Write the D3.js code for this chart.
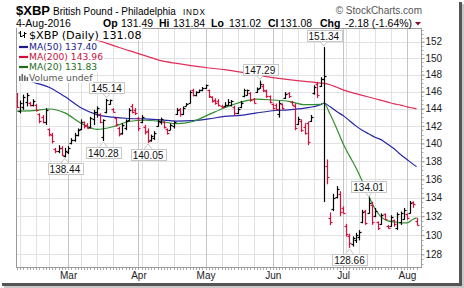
<!DOCTYPE html>
<html><head><meta charset="utf-8">
<script src="https://cdn.jsdelivr.net/npm/d3@7"></script>
<style>html,body{margin:0;padding:0;background:#fff}svg{display:block}</style>
</head><body><svg id="c" width="464" height="288"></svg>
<script>
// ---------- data ----------
const firstDay = "2016-02-05", lastDay = "2016-08-04";
const holidays = ["2016-02-15","2016-03-25","2016-05-30","2016-07-04"];
const priorClose = 145.6;
const opens = [145.53,143.75,144.15,144.8,144.7,144.45,144.45,143.35,143.05,142.4,141.6,141.0,139.4,139.1,139.5,138.6,139.0,140.0,140.4,141.0,141.6,142.4,142.1,141.9,142.75,143.55,143.35,140.7,143.55,144.55,143.95,142.85,141.7,141.2,141.8,142.65,144.35,143.85,142.95,142.4,141.9,141.4,140.35,140.6,142.0,142.45,142.45,141.6,141.5,142.0,143.35,143.95,143.35,144.35,144.7,146.13,145.53,145.93,146.13,146.43,146.13,145.33,145.0,144.9,144.35,144.25,144.45,144.45,144.15,143.45,144.15,145.43,145.63,145.83,145.13,145.93,146.43,146.7,146.03,145.43,144.5,144.4,143.35,144.5,145.23,145.83,144.8,144.35,142.2,142.55,141.9,142.3,142.55,145.83,146.85,146.63,147.5,137.5,131.8,132.75,134.12,134.4,132.85,130.98,129.86,129.08,129.45,129.75,131.35,132.6,132.38,133.25,132.0,131.35,131.16,132.2,131.0,130.98,131.55,130.8,131.35,131.73,132.2,132.38,133.5,131.49];
const highs = [145.83,144.93,145.63,145.83,144.8,145.1,144.55,143.45,143.25,144.05,141.7,141.2,139.5,139.8,139.7,139.5,139.7,140.6,141.2,141.7,142.75,142.5,142.3,143.05,143.85,144.25,143.45,142.75,145.14,145.05,144.05,142.95,141.9,142.3,142.75,144.05,144.55,144.05,143.05,143.25,142.1,141.7,141.0,141.4,142.75,142.95,142.55,141.7,142.3,142.55,144.05,144.05,144.25,144.65,146.13,146.33,146.03,146.23,146.53,146.83,146.23,145.43,145.2,145.1,144.45,144.75,145.1,145.0,144.35,144.15,144.9,146.33,146.23,145.93,145.23,146.48,147.29,146.9,146.23,145.53,144.6,144.6,144.9,144.6,145.93,145.93,144.9,144.6,143.05,142.75,142.3,142.5,143.25,146.73,147.15,147.7,151.34,138.2,132.4,134.42,135.25,134.7,133.05,131.18,130.15,129.86,130.24,130.52,132.68,132.68,134.01,133.55,132.88,131.45,132.3,132.3,131.08,132.1,131.63,132.4,132.5,132.88,132.3,133.63,133.6,131.84];
const lows = [144.05,143.45,143.85,144.25,144.25,144.25,143.65,142.3,142.3,142.1,140.8,140.0,138.9,138.9,138.6,138.44,138.8,139.9,140.2,140.8,141.5,141.7,141.7,141.7,142.1,142.95,142.3,140.28,143.45,144.45,143.55,141.9,140.8,141.0,141.5,142.55,143.45,143.25,141.4,142.3,141.0,140.05,140.2,140.4,141.9,142.15,141.7,141.0,141.5,141.7,143.25,143.05,143.25,144.25,144.6,145.43,145.43,145.83,146.03,146.33,145.23,144.7,144.45,144.25,144.05,144.15,144.35,144.25,143.2,143.35,144.05,145.33,145.53,144.8,144.6,145.83,146.33,145.93,145.23,144.6,143.85,143.75,142.95,143.85,145.13,145.23,144.35,141.5,142.1,141.3,141.0,139.8,142.45,145.63,145.23,146.53,133.52,135.45,131.05,132.55,133.92,132.0,132.28,129.84,128.66,128.8,129.18,129.45,131.25,131.08,132.28,131.08,131.9,130.55,131.08,131.63,130.7,130.88,130.88,130.55,131.08,131.63,131.63,132.28,132.9,131.02];
const closes = [144.15,144.6,145.33,145.63,144.45,144.9,143.85,142.6,142.5,143.85,141.1,140.3,139.1,139.5,138.7,139.2,139.5,140.4,141.0,141.5,142.5,142.0,141.8,142.85,143.55,144.05,142.45,142.65,144.95,145.0,143.65,142.2,141.1,142.1,142.55,143.85,143.65,143.45,141.7,143.05,141.3,140.3,140.8,141.2,142.55,142.75,141.9,141.2,142.1,142.45,143.85,143.35,144.05,144.55,145.93,145.63,145.93,146.13,146.43,146.73,145.43,144.9,144.7,144.45,144.15,144.45,144.75,144.9,143.45,143.95,144.7,146.13,146.18,145.0,144.7,146.33,146.9,146.13,145.43,144.8,144.05,143.95,144.6,144.05,145.73,145.43,144.45,141.8,142.75,141.5,141.2,140.2,143.05,146.53,145.53,147.5,147.9,136.3,131.35,133.92,134.95,132.45,132.35,130.12,129.18,129.65,130.04,130.32,132.5,131.25,133.45,131.35,132.58,130.8,132.1,131.73,130.8,131.92,131.18,132.2,132.3,132.7,131.83,133.45,133.26,131.08];

const maIdx = [0,5,10,15,20,25,30,35,40,45,50,55,60,65,70,75,80,85,90,95,96,98,100,102,104,106,108,110,112,114,116,118,120,122,124,125];
const ma20  = [143.7,143.75,143.95,143.5,142.3,141.6,141.9,142.5,142.65,142.5,142.25,142.5,143.3,144.1,144.75,145.1,145.0,144.85,144.45,144.5,144.62,143.3,141.7,140.0,138.6,137.3,135.8,134.2,132.8,131.9,131.5,131.4,131.3,131.3,131.7,131.83];
const ma50  = [147.6,147.1,146.5,145.4,144.1,143.3,143.0,142.85,142.8,142.7,142.55,142.6,142.8,143.1,143.2,143.5,143.75,143.85,144.05,144.45,144.62,144.2,143.65,143.2,142.6,142.0,141.5,141.1,140.7,140.4,139.9,139.4,138.75,138.2,137.65,137.40];
const ma200 = [155.4,154.8,154.1,153.5,152.8,152.2,151.55,150.9,150.3,149.7,149.35,149.05,148.8,148.6,148.3,147.95,147.65,147.4,147.2,147.0,146.97,146.8,146.5,146.2,145.95,145.75,145.55,145.35,145.15,144.95,144.75,144.55,144.4,144.2,144.05,143.96];

const yTicks = [128,130,132,134,136,138,140,142,144,146,148,150,152];
const highLabels = [151.34,147.29,145.14,134.01];
const lowLabels = [140.28,140.05,138.44,128.66];

// ---------- setup ----------
const fmt = d3.timeFormat("%Y-%m-%d");
const parse = d3.timeParse("%Y-%m-%d");
const days = d3.timeDay.range(parse(firstDay), d3.timeDay.offset(parse(lastDay),1))
  .filter(d => d.getDay()%6!==0 && !holidays.includes(fmt(d)));
const n = days.length;

const L=16, R=422, T=28, B=268;
const x = d3.scaleLinear().domain([-0.3, n+0.7]).range([L,R]);
const y = d3.scaleLog().domain([126.59,153.69]).range([B,T]);

const RED="#d8103e", BLK="#000";
const svg = d3.select("#c");
const AR="Liberation Sans, Arial, sans-serif", DV="DejaVu Sans, Verdana, sans-serif";

// shadow + background
svg.append("rect").attr("x",4).attr("y",4).attr("width",460).attr("height",284).attr("fill","#c8c8c8");
svg.append("rect").attr("x",2).attr("y",2).attr("width",460).attr("height",284).attr("fill","#555");
svg.append("rect").attr("x",0).attr("y",0).attr("width",459).attr("height",283).attr("fill","#fff");

// grid
const monthStarts = [], weekStarts = [];
days.forEach((d,i)=>{
  if(i>0 && d.getMonth()!==days[i-1].getMonth()) monthStarts.push(i);
  if(i>0 && d3.timeMonday.floor(d)>d3.timeMonday.floor(days[i-1])) weekStarts.push(i);
});
const weekHasMonth = new Set(monthStarts.map(i=>+d3.timeMonday.floor(days[i])));
const weekLines = weekStarts.filter(i=>!weekHasMonth.has(+d3.timeMonday.floor(days[i])));

const grid = svg.append("g");
grid.selectAll(".hg").data(yTicks).join("line")
  .attr("x1",L).attr("x2",R).attr("y1",d=>Math.round(y(d))+0.5).attr("y2",d=>Math.round(y(d))+0.5)
  .attr("stroke","#e2e2e2");
grid.selectAll(".wg").data(weekLines).join("line")
  .attr("x1",d=>Math.round(x(d))+0.5).attr("x2",d=>Math.round(x(d))+0.5).attr("y1",T).attr("y2",B)
  .attr("stroke","#e2e2e2");
grid.selectAll(".mg").data(monthStarts).join("line")
  .attr("x1",d=>Math.round(x(d))+0.5).attr("x2",d=>Math.round(x(d))+0.5).attr("y1",T).attr("y2",B)
  .attr("stroke","#c4c4c4");

// clip
svg.append("clipPath").attr("id","pc").append("rect").attr("x",L).attr("y",T).attr("width",R-L).attr("height",B-T);
const plot = svg.append("g").attr("clip-path","url(#pc)");

// MA lines
function maLine(vals, color){
  const line = d3.line().x((d,k)=>x(maIdx[k])).y(d=>y(d)).curve(d3.curveMonotoneX);
  plot.append("path").datum(vals).attr("d",line).attr("fill","none").attr("stroke",color).attr("stroke-width",1.2);
}
maLine(ma200,"#e0305a");
maLine(ma50,"#2626a6");
maLine(ma20,"#2f8f2f");

// OHLC bars
const bars = plot.append("g");
d3.range(n).forEach(i=>{
  const pc = i===0 ? priorClose : closes[i-1];
  const col = closes[i] >= pc ? BLK : RED;
  const cx = Math.round(x(i))+0.5;
  const g = bars.append("g").attr("stroke",col).attr("stroke-width",1.2);
  g.append("line").attr("x1",cx).attr("x2",cx).attr("y1",y(highs[i])).attr("y2",y(lows[i]));
  g.append("line").attr("x1",cx-2).attr("x2",cx).attr("y1",Math.round(y(opens[i]))+0.5).attr("y2",Math.round(y(opens[i]))+0.5);
  g.append("line").attr("x1",cx).attr("x2",cx+2).attr("y1",Math.round(y(closes[i]))+0.5).attr("y2",Math.round(y(closes[i]))+0.5);
});

// frame
svg.append("rect").attr("x",L+0.5).attr("y",T+0.5).attr("width",R-L-1).attr("height",B-T-1)
  .attr("fill","none").attr("stroke","#9a9a9a");

// right axis
const yAxis = d3.axisRight(y).tickValues(yTicks).tickSize(3).tickFormat(d3.format("d"));
const ya = svg.append("g").attr("transform",`translate(${R-0.5},0)`).call(yAxis);
ya.select(".domain").remove();
ya.selectAll(".tick line").attr("stroke","#888");
ya.selectAll("text").attr("font-family",AR).attr("font-size",10).attr("fill","#222").attr("x",4);
const minor = d3.range(127,154,0.5).filter(v=>v>y.domain()[0]&&v<y.domain()[1]);
svg.append("g").selectAll("line").data(minor).join("line")
  .attr("x1",R).attr("x2",R+1.5).attr("y1",d=>Math.round(y(d))+0.5).attr("y2",d=>Math.round(y(d))+0.5)
  .attr("stroke","#aaa");

// bottom axis
svg.append("g").selectAll("line").data(d3.range(n)).join("line")
  .attr("x1",d=>Math.round(x(d))+0.5).attr("x2",d=>Math.round(x(d))+0.5).attr("y1",B).attr("y2",B+2)
  .attr("stroke","#aaa");
const xAxis = d3.axisBottom(x).tickValues(monthStarts).tickSize(0).tickFormat(i=>d3.timeFormat("%b")(days[i]));
const xa = svg.append("g").attr("transform",`translate(0,${B})`).call(xAxis);
xa.select(".domain").remove();
xa.selectAll("text").attr("font-family",AR).attr("font-size",10).attr("fill","#222").attr("dy","0.71em").attr("y",4);

// annotations
function annot(v, isHigh){
  const arr = isHigh ? highs : lows;
  const i = arr.indexOf(v);
  const cx = x(i), py = y(v);
  const g = svg.append("g");
  const t = g.append("text").text(v.toFixed(2)).attr("font-family",AR).attr("font-size",10)
    .attr("text-anchor","middle").attr("x",cx);
  const w = t.node().getComputedTextLength()+4, h = 11;
  const by = isHigh ? py-6-h : py+6;
  const edge = isHigh ? by+h : by;
  const tip = isHigh ? py-1 : py+1;
  g.insert("path","text").attr("d",`M${cx-4},${edge}L${cx},${tip}L${cx+4},${edge}`)
    .attr("fill","#fff").attr("stroke","#c8c8c8");
  g.insert("rect","text").attr("x",Math.round(cx-w/2)+0.5).attr("y",Math.round(by)+0.5).attr("width",Math.round(w)).attr("height",h)
    .attr("fill","#fff").attr("stroke","#c8c8c8");
  t.attr("y",Math.round(by)+9.5).attr("fill","#111");
}
highLabels.forEach(v=>annot(v,true));
lowLabels.forEach(v=>annot(v,false));

// legend
const lg = svg.append("g");
function legRow(yb, txt, color, size, tx){
  const t = lg.append("text").attr("x",tx).attr("y",yb).attr("font-family",DV).attr("font-size",size).attr("fill",color).text(txt);
  const w = t.node().getComputedTextLength();
  lg.insert("rect","text").attr("x",L+1).attr("y",yb-size+0.5).attr("width",tx-L-1+w+1).attr("height",size+1.5).attr("fill","#fff");
}
legRow(38.5, "$XBP (Daily) " + closes[n-1].toFixed(2), "#000", 11.2, 29);
legRow(50, "MA(50) " + ma50[ma50.length-1].toFixed(2), "#1c1c8a", 9.2, 29);
legRow(60.2, "MA(200) " + ma200[ma200.length-1].toFixed(2), "#cc1040", 9.2, 29);
legRow(70.4, "MA(20) " + ma20[ma20.length-1].toFixed(2), "#1e6e1e", 9.2, 29);
legRow(80.6, "Volume undef", "#555", 9.2, 29);
// legend glyphs
[[20,31,37,32.5,36],[24,32,38,35,33]].forEach(([gx,t1,b1,o,c])=>{
  lg.append("line").attr("x1",gx+0.5).attr("x2",gx+0.5).attr("y1",t1).attr("y2",b1).attr("stroke","#000");
  lg.append("line").attr("x1",gx-1.5).attr("x2",gx+0.5).attr("y1",o+0.5).attr("y2",o+0.5).attr("stroke","#000");
  lg.append("line").attr("x1",gx+0.5).attr("x2",gx+2.5).attr("y1",c+0.5).attr("y2",c+0.5).attr("stroke","#000");
});
[[47,"#1c1c8a"],[57,"#cc1040"],[67,"#1e6e1e"]].forEach(([ly,c])=>{
  lg.append("line").attr("x1",19).attr("x2",28).attr("y1",ly).attr("y2",ly).attr("stroke",c).attr("stroke-width",2.2);
});
[[19,76],[21.5,74],[24,75.5],[26.5,77]].forEach(([vx,vt])=>{
  lg.append("rect").attr("x",vx).attr("y",vt).attr("width",1.6).attr("height",81-vt).attr("fill","#666");
});

// header
const hd = svg.append("g");
hd.append("text").attr("x",16).attr("y",14.5).attr("font-family",AR).attr("font-weight","bold").attr("font-size",13).text("$XBP");
hd.append("text").attr("x",53).attr("y",14.5).attr("font-family",AR).attr("font-size",10).text("British Pound - Philadelphia");
hd.append("text").attr("x",183).attr("y",14.5).attr("font-family",AR).attr("font-size",8.2).attr("letter-spacing",0.8).text("INDX");
hd.append("text").attr("x",422).attr("y",13.5).attr("text-anchor","end").attr("font-family",AR).attr("font-size",10).attr("fill","#555").text("\u00A9 StockCharts.com");
const row = [
  [16,"4-Aug-2016",false],
  [103,"Op",true],[121,opens[n-1].toFixed(2),false],
  [159,"Hi",true],[173,highs[n-1].toFixed(2),false],
  [211,"Lo",true],[229,lows[n-1].toFixed(2),false],
  [268,"Cl",true],[280,closes[n-1].toFixed(2),false],
  [320,"Chg",true],[345,"-2.18 (-1.64%)",false]
];
row.forEach(([rx,txt,b])=>{
  hd.append("text").attr("x",rx).attr("y",26.5).attr("font-family",AR).attr("font-size",10.5)
    .attr("font-weight",b?"bold":"normal").text(txt);
});
hd.append("path").attr("d","M415,22L421,22L418,25.5Z").attr("fill","#8c0a2a");
</script></body></html>
